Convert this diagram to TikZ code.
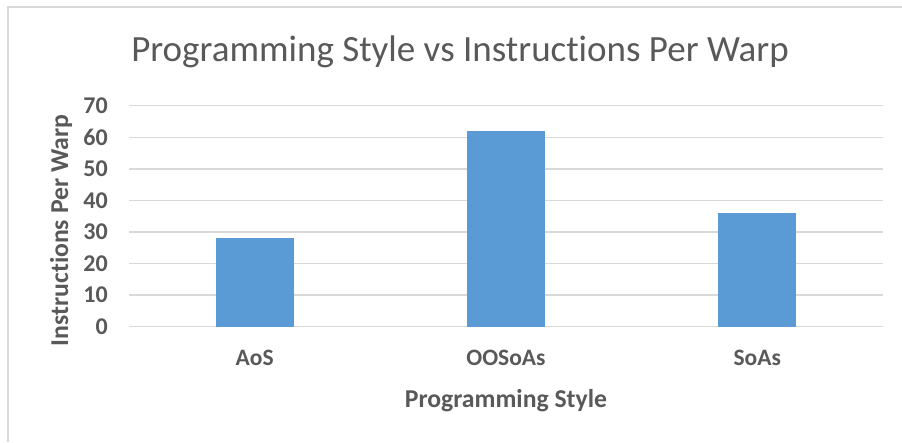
\documentclass[tikz,border=0pt]{standalone}
\usepackage{fontspec}
\setmainfont[Ligatures={NoCommon},Contextuals={NoAlternate}]{Carlito}
\definecolor{txtgray}{HTML}{595959}
\definecolor{gridgray}{HTML}{D9D9D9}
\definecolor{barblue}{HTML}{5B9BD5}
% separate t and i so no ligature is formed
\newcommand{\tiNoLig}{t\kern0pt i}
\begin{document}
\begin{tikzpicture}[x=1pt,y=-1pt,
  gridline/.style={draw=gridgray,line width=1.5pt},
  framerule/.style={draw=gridgray,line width=1.5pt},
  bar/.style={fill=barblue,draw=none},
  ticklabel/.style={text=txtgray,font=\fontsize{24}{24}\selectfont\bfseries,inner sep=0pt,anchor=east},
  catlabel/.style={text=txtgray,font=\fontsize{23.5}{24}\selectfont\bfseries,inner sep=0pt,anchor=base},
  axistitle/.style={text=txtgray,font=\fontsize{25.7}{26}\selectfont\bfseries,inner sep=0pt,anchor=base},
  charttitle/.style={text=txtgray,font=\fontsize{37}{37}\selectfont,inner sep=0pt,anchor=base}]
  \useasboundingbox (0,0) rectangle (902,442);
  \fill[white] (0,0) rectangle (902,442);
  % chart area frame (top and left edges)
  \draw[framerule] (8,442) -- (8,7) -- (902,7);
  % gridlines and value labels, 10 units = 31.57pt
  \foreach \k in {0,...,7}{
    \pgfmathsetmacro{\yy}{326.7-\k*31.57}
    \draw[gridline] (129,\yy) -- (883,\yy);
    \pgfmathtruncatemacro{\val}{\k*10}
    \node[ticklabel] (tick\k) at (108,\yy) {\val};
  }
  % bars
  \fill[bar] (215.7,326.7) rectangle (293.7,{326.7-28*3.157});
  \fill[bar] (467,326.7) rectangle (545,{326.7-62*3.157});
  \fill[bar] (718.3,326.7) rectangle (796.3,{326.7-36*3.157});
  % category labels
  \node[catlabel] (catA) at (254.7,365) {AoS};
  \node[catlabel] (catB) at (506,365) {OOSoAs};
  \node[catlabel] (catC) at (757.3,365) {SoAs};
  % axis titles
  \node[axistitle] (xtitle) at (506,407) {Programming Style};
  \node[axistitle,rotate=90] (ytitle) at (68,230.5) {Instruc\tiNoLig ons Per Warp};
  % chart title
  \node[charttitle] (title) at (460,61.7) {Programming Style vs Instruc\tiNoLig ons Per Warp};
\end{tikzpicture}
\end{document}
